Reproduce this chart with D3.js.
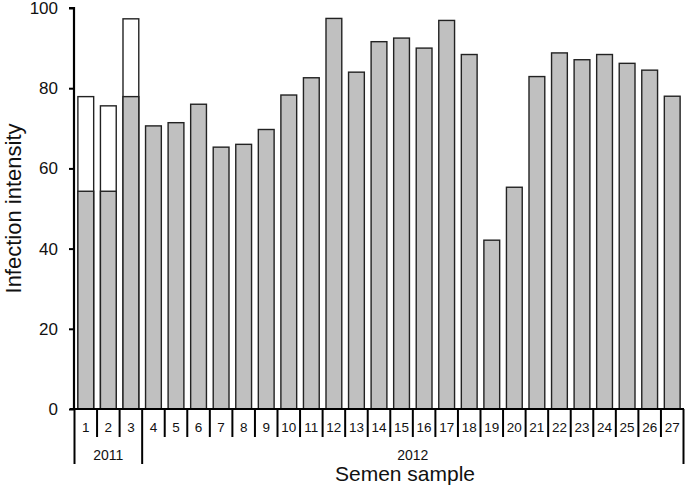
<!DOCTYPE html>
<html><head><meta charset="utf-8">
<script src="https://cdn.jsdelivr.net/npm/d3@7"></script>
<style>body{margin:0;background:#fff}svg{display:block}text{font-family:"Liberation Sans",Arial,sans-serif;fill:#111}</style>
</head><body><svg id="c" width="685" height="488"></svg>
<script>
const samples = d3.range(1, 28).map(String);
const grayValues = [54.3,54.3,77.9,70.6,71.4,76.0,65.3,66.0,69.7,78.3,82.6,97.4,84.0,91.6,92.5,90.0,96.9,88.4,42.1,55.3,82.9,88.8,87.1,88.4,86.2,84.5,78.0];
const totalValues = [77.9,75.6,97.3,null,null,null,null,null,null,null,null,null,null,null,null,null,null,null,null,null,null,null,null,null,null,null,null];
const years = [{label:"2011", from:"1", to:"3"},{label:"2012", from:"4", to:"27"}];
const yTicks = [0,20,40,60,80,100];

const svg = d3.select("#c");
const x = d3.scaleBand().domain(samples).range([74.5, 683.5]).paddingInner(0.3).paddingOuter(0.15);
const xb = d3.scaleBand().domain(samples).range([74.5, 683.5]);
const y = d3.scaleLinear().domain([0,100]).range([409, 8]);

// white (total) bars
svg.append("g").selectAll("rect").data(samples.filter((s,i)=>totalValues[i]!=null)).join("rect")
  .attr("x", s=>x(s)).attr("width", x.bandwidth())
  .attr("y", s=>y(totalValues[samples.indexOf(s)]))
  .attr("height", s=>y(0)-y(totalValues[samples.indexOf(s)]))
  .attr("fill","#fff").attr("stroke","#222").attr("stroke-width",1.4);
// gray bars
svg.append("g").selectAll("rect").data(samples).join("rect")
  .attr("x", s=>x(s)).attr("width", x.bandwidth())
  .attr("y", (s,i)=>y(grayValues[i]))
  .attr("height", (s,i)=>y(0)-y(grayValues[i]))
  .attr("fill","#c0c0c0").attr("stroke","#222").attr("stroke-width",1.4);

// y axis
const ya = svg.append("g").attr("transform","translate(74,0)")
  .call(d3.axisLeft(y).tickValues(yTicks).tickSize(5).tickPadding(11));
ya.select(".domain").attr("stroke","#000").attr("stroke-width",2.2).attr("d","M-5,"+y(100)+"H0V"+y(0));
ya.selectAll(".tick line").attr("stroke","#000").attr("stroke-width",2);
ya.selectAll(".tick text").attr("font-size",17).attr("fill","#111").attr("font-family","Liberation Sans, Arial, sans-serif");

// x axis line
svg.append("line").attr("x1",70).attr("x2",684).attr("y1",y(0)).attr("y2",y(0)).attr("stroke","#000").attr("stroke-width",2.2);
// category separators
const bounds = samples.map(s=>xb(s)).concat([xb(samples[samples.length-1])+xb.bandwidth()]);
const yearBounds = new Set([xb(years[0].from), xb(years[1].from), xb(years[1].to)+xb.bandwidth()]);
svg.append("g").selectAll("line").data(bounds).join("line")
  .attr("x1",d=>d).attr("x2",d=>d).attr("y1",y(0))
  .attr("y2",d=>[...yearBounds].some(b=>Math.abs(b-d)<0.5)?464:437)
  .attr("stroke","#000").attr("stroke-width",2);
// sample labels
svg.append("g").selectAll("text").data(samples).join("text")
  .attr("x",s=>xb(s)+xb.bandwidth()/2).attr("y",432).attr("text-anchor","middle")
  .attr("font-size",13.5).text(s=>s);
// year labels
svg.append("g").selectAll("text").data(years).join("text")
  .attr("x",d=>(xb(d.from)+xb(d.to)+xb.bandwidth())/2).attr("y",460).attr("text-anchor","middle")
  .attr("font-size",14).text(d=>d.label);
// axis titles
svg.append("text").attr("x",405).attr("y",481).attr("text-anchor","middle").attr("font-size",21).text("Semen sample");
svg.append("text").attr("transform","translate(21,208.5) rotate(-90)").attr("text-anchor","middle").attr("font-size",22).text("Infection intensity");
</script></body></html>
